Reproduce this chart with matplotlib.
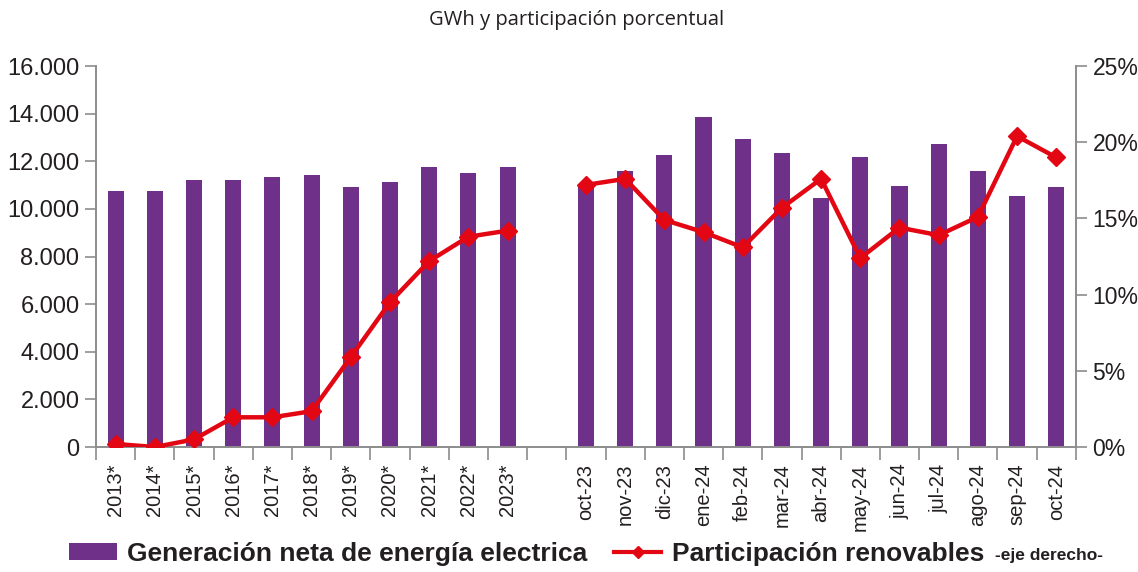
import matplotlib
matplotlib.use("Agg")
import matplotlib.pyplot as plt
from matplotlib.ticker import FuncFormatter, FixedLocator
from matplotlib.lines import Line2D
from matplotlib.patches import Patch

plt.rcParams['font.family'] = ['Liberation Sans', 'DejaVu Sans']

# data
years = ["2013*", "2014*", "2015*", "2016*", "2017*", "2018*", "2019*", "2020*",
         "2021*", "2022*", "2023*"]
months = ["oct-23", "nov-23", "dic-23", "ene-24", "feb-24", "mar-24", "abr-24",
          "may-24", "jun-24", "jul-24", "ago-24", "sep-24", "oct-24"]
gen_years = [10750, 10750, 11200, 11200, 11360, 11430, 10900, 11140, 11740, 11520, 11740]
gen_months = [10910, 11590, 12260, 13840, 12950, 12340, 10450, 12190, 10980, 12710,
              11590, 10540, 10910]
ren_years = [0.2, 0.0, 0.5, 1.95, 1.95, 2.35, 5.9, 9.5, 12.2, 13.8, 14.2]
ren_months = [17.2, 17.6, 14.9, 14.1, 13.1, 15.7, 17.6, 12.4, 14.4, 13.9, 15.1, 20.4, 19.0]

purple = "#6f3089"
red = "#e30613"
grey = "#8c8c8c"
txt = "#231f20"

labels = years + [""] + months
x_years = list(range(len(years)))
x_months = [len(years) + 1 + i for i in range(len(months))]

fig = plt.figure(figsize=(11.38, 5.72), dpi=100)
ax = fig.add_axes([0.0844, 0.2185, 0.861, 0.666])
ax2 = ax.twinx()

ax.bar(x_years, gen_years, width=0.41, color=purple, zorder=2)
ax.bar(x_months, gen_months, width=0.41, color=purple, zorder=2)
ax2.plot(x_years, ren_years, color=red, lw=3.2, marker="D", ms=9, zorder=3)
ax2.plot(x_months, ren_months, color=red, lw=3.2, marker="D", ms=9, zorder=3)

n = len(labels)
ax.set_xlim(-0.5, n - 0.5)
ax.set_ylim(0, 16000)
ax2.set_ylim(0, 25)
ax.set_yticks(range(0, 16001, 2000))
ax2.set_yticks(range(0, 26, 5))
ax.yaxis.set_major_formatter(FuncFormatter(lambda v, p: f"{int(v):,}".replace(",", ".")))
ax2.yaxis.set_major_formatter(FuncFormatter(lambda v, p: f"{int(v)}%"))

ax.set_xticks(range(n))
ax.set_xticklabels(labels, rotation=90, fontsize=14.5, color=txt)
ax.tick_params(axis="x", which="major", length=0, pad=12)
ax.xaxis.set_minor_locator(FixedLocator([i - 0.5 for i in range(n + 1)]))
ax.tick_params(axis="x", which="minor", length=9, color=grey, width=1.2)

ax.tick_params(axis="y", labelsize=17, colors=txt, length=8, width=1.2, pad=4)
ax.tick_params(axis="y", color=grey)
ax2.tick_params(axis="y", labelsize=16.5, colors=txt, length=8, width=1.2, pad=4)
ax2.tick_params(axis="y", color=grey)

for a in (ax, ax2):
    a.spines["top"].set_visible(False)
    for s in ("left", "right", "bottom"):
        a.spines[s].set_color(grey)
        a.spines[s].set_linewidth(1.2)

fig.text(0.507, 0.965, "GWh y participación porcentual", ha="center", va="center",
         fontsize=14.5, color=txt, family=["Open Sans", "DejaVu Sans"])

handles = [Patch(facecolor=purple),
           Line2D([], [], color=red, lw=3, marker="D", ms=6)]
leg = fig.legend(handles, ["Generación neta de energía electrica", "Participación renovables"],
                 loc="center left", bbox_to_anchor=(0.040, 0.032), ncol=2, frameon=False,
                 prop={"size": 19, "weight": "bold"}, handlelength=1.8, handleheight=0.6,
                 columnspacing=1.0, handletextpad=0.4)
for t in leg.get_texts():
    t.set_color(txt)
fig.text(0.874, 0.028, "-eje derecho-", fontsize=12.5, fontweight="bold",
         ha="left", va="center", color=txt)

fig.savefig("out.png", dpi=100)
